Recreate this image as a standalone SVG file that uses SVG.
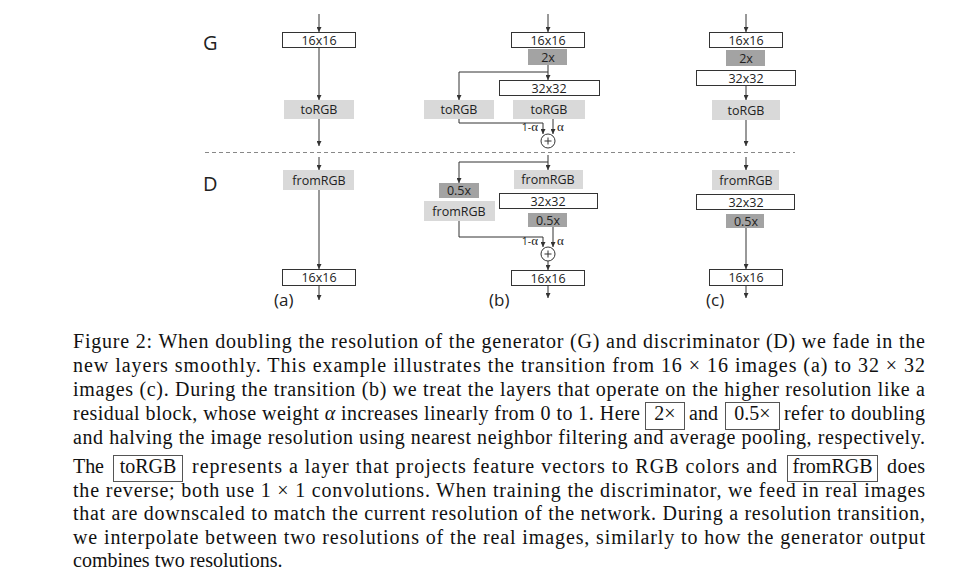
<svg xmlns="http://www.w3.org/2000/svg" width="969" height="577" viewBox="0 0 969 577">
<style>
.bw{fill:#fff;stroke:#333;stroke-width:1}
.bl{fill:#d9d9d9}
.bd{fill:#a3a3a3}
.t{font-family:"Open Sans","Liberation Sans",sans-serif;font-size:12.5px;fill:#222;text-anchor:middle}
.lab{font-family:"Open Sans","Liberation Sans",sans-serif;fill:#222}
.c{fill:none;stroke:#333;stroke-width:1}
.cap{font-family:"Liberation Serif","Times New Roman",serif;font-size:20px;fill:#111}
.cb{fill:none;stroke:#555;stroke-width:1}
.al{font-family:"Open Sans","Liberation Sans",sans-serif;font-size:10.5px;fill:#222}
.as{font-family:"Liberation Serif",serif;font-size:13px;fill:#222}
</style>
<defs>
<marker id="ah" markerWidth="5" markerHeight="5" refX="5" refY="2.5" orient="auto" markerUnits="userSpaceOnUse">
<path d="M0,0 L5,2.5 L0,5 z" fill="#333"/>
</marker>
</defs>
<rect width="969" height="577" fill="#fff"/>

<g id="labels">
<text class="lab" x="203" y="50" font-size="20">G</text>
<text class="lab" x="203" y="191" font-size="20">D</text>
<text class="lab" x="274" y="306" font-size="17">(a)</text>
<text class="lab" x="489" y="306" font-size="17">(b)</text>
<text class="lab" x="706" y="306" font-size="17">(c)</text>
</g>

<path id="divider" d="M205,152.5 H795" stroke="#888" stroke-width="1" stroke-dasharray="4,3" fill="none"/>

<g id="connectors" class="c" marker-end="url(#ah)">
<path d="M319,14 V32"/>
<path d="M319,47 V100"/>
<path d="M319,119 V146"/>
<path d="M319,157 V170"/>
<path d="M319,190 V269"/>
<path d="M319,286 V300"/>
<path d="M548,14 V32"/>
<path d="M548,65 V80"/>
<path d="M548,72 H459 V100"/>
<path d="M459,119 V123 H543 V134"/>
<path d="M553,119 V134"/>
<path d="M548,155 V170"/>
<path d="M548,162 H459 V183"/>
<path d="M459,221 V237 H543 V247"/>
<path d="M553,227 V247"/>
<path d="M548,261 V270"/>
<path d="M548,286 V298"/>
<path d="M746,14 V32"/>
<path d="M746,85 V100"/>
<path d="M746,120 V146"/>
<path d="M746,157 V170"/>
<path d="M746,228 V269"/>
<path d="M746,286 V298"/>
</g>

<g id="a-g-16"><rect class="bw" x="282.5" y="32.5" width="73" height="15"/><text class="t" x="319" y="44.5">16x16</text></g>
<g id="a-g-torgb"><rect class="bl" x="284" y="100" width="70" height="19"/><text class="t" x="319" y="114">toRGB</text></g>
<g id="a-d-fromrgb"><rect class="bl" x="283" y="170" width="71" height="20"/><text class="t" x="319" y="184.5">fromRGB</text></g>
<g id="a-d-16"><rect class="bw" x="282.5" y="269.5" width="73" height="16"/><text class="t" x="319" y="282">16x16</text></g>

<g id="b-g-16"><rect class="bw" x="511.5" y="32.5" width="73" height="15"/><text class="t" x="548" y="44.5">16x16</text></g>
<g id="b-g-2x"><rect class="bd" x="528" y="49" width="39" height="16"/><text class="t" x="548" y="61.5">2x</text></g>
<g id="b-g-32"><rect class="bw" x="499.5" y="80.5" width="100" height="15"/><text class="t" x="549" y="92.5">32x32</text></g>
<g id="b-g-torgb-l"><rect class="bl" x="424" y="100" width="70" height="19"/><text class="t" x="459" y="114">toRGB</text></g>
<g id="b-g-torgb-r"><rect class="bl" x="513" y="100" width="72" height="19"/><text class="t" x="549" y="114">toRGB</text></g>
<g id="b-g-sum">
<circle cx="548" cy="141" r="7" fill="#fff" stroke="#333"/>
<path d="M544.5,141 H551.5 M548,137.5 V144.5" stroke="#333" fill="none"/>
<text class="al" x="538" y="131" text-anchor="end">1-<tspan class="as">α</tspan></text>
<text class="as" x="557" y="131">α</text>
</g>
<g id="b-d-fromrgb-r"><rect class="bl" x="514" y="170" width="69" height="19"/><text class="t" x="548" y="184">fromRGB</text></g>
<g id="b-d-05-l"><rect class="bd" x="439" y="183" width="40" height="15"/><text class="t" x="459" y="195">0.5x</text></g>
<g id="b-d-32"><rect class="bw" x="499.5" y="193.5" width="98" height="15"/><text class="t" x="548" y="205.5">32x32</text></g>
<g id="b-d-fromrgb-l"><rect class="bl" x="424" y="201" width="71" height="20"/><text class="t" x="459" y="215.5">fromRGB</text></g>
<g id="b-d-05-r"><rect class="bd" x="528" y="213" width="39" height="14"/><text class="t" x="548" y="224.5">0.5x</text></g>
<g id="b-d-sum">
<circle cx="548" cy="254" r="7" fill="#fff" stroke="#333"/>
<path d="M544.5,254 H551.5 M548,250.5 V257.5" stroke="#333" fill="none"/>
<text class="al" x="538" y="245" text-anchor="end">1-<tspan class="as">α</tspan></text>
<text class="as" x="557" y="245">α</text>
</g>
<g id="b-d-16"><rect class="bw" x="511.5" y="270.5" width="73" height="15"/><text class="t" x="548" y="282.5">16x16</text></g>

<g id="c-g-16"><rect class="bw" x="709.5" y="32.5" width="73" height="15"/><text class="t" x="746" y="44.5">16x16</text></g>
<g id="c-g-2x"><rect class="bd" x="726" y="50" width="39" height="16"/><text class="t" x="746" y="62.5">2x</text></g>
<g id="c-g-32"><rect class="bw" x="696.5" y="70.5" width="99" height="15"/><text class="t" x="746" y="82.5">32x32</text></g>
<g id="c-g-torgb"><rect class="bl" x="712" y="100" width="68" height="20"/><text class="t" x="746" y="114.5">toRGB</text></g>
<g id="c-d-fromrgb"><rect class="bl" x="712" y="170" width="67" height="20"/><text class="t" x="746" y="184.5">fromRGB</text></g>
<g id="c-d-32"><rect class="bw" x="696.5" y="194.5" width="98" height="15"/><text class="t" x="746" y="206.5">32x32</text></g>
<g id="c-d-05"><rect class="bd" x="726" y="214" width="38" height="14"/><text class="t" x="746" y="225.5">0.5x</text></g>
<g id="c-d-16"><rect class="bw" x="709.5" y="269.5" width="73" height="16"/><text class="t" x="746" y="282">16x16</text></g>

<g id="caption" class="cap">
<text x="73" y="348" textLength="852" lengthAdjust="spacing">Figure 2: When doubling the resolution of the generator (G) and discriminator (D) we fade in the</text>
<text x="73" y="372" textLength="852" lengthAdjust="spacing">new layers smoothly.  This example illustrates the transition from 16 × 16 images (a) to 32 × 32</text>
<text x="73" y="395.5" textLength="852" lengthAdjust="spacing">images (c). During the transition (b) we treat the layers that operate on the higher resolution like a</text>
<text x="73" y="420" textLength="567" lengthAdjust="spacing">residual block, whose weight <tspan font-style="italic">α</tspan> increases linearly from 0 to 1. Here</text>
<rect class="cb" x="645.5" y="402.5" width="39" height="27"/>
<text x="665" y="420" text-anchor="middle">2×</text>
<text x="689" y="420" textLength="29" lengthAdjust="spacing">and</text>
<rect class="cb" x="725.5" y="402.5" width="54" height="27"/>
<text x="752.5" y="420" text-anchor="middle">0.5×</text>
<text x="784" y="420" textLength="141" lengthAdjust="spacing">refer to doubling</text>
<text x="73" y="443.5" textLength="852" lengthAdjust="spacing">and halving the image resolution using nearest neighbor filtering and average pooling, respectively.</text>
<text x="73" y="473" textLength="31" lengthAdjust="spacing">The</text>
<rect class="cb" x="113.5" y="455.5" width="69" height="26"/>
<text x="148" y="473" text-anchor="middle">toRGB</text>
<text x="192" y="473" textLength="585" lengthAdjust="spacing">represents a layer that projects feature vectors to RGB colors and</text>
<rect class="cb" x="787.5" y="455.5" width="90" height="26"/>
<text x="832.5" y="473" text-anchor="middle">fromRGB</text>
<text x="887" y="473" textLength="38" lengthAdjust="spacing">does</text>
<text x="73" y="497" textLength="852" lengthAdjust="spacing">the reverse; both use 1 × 1 convolutions. When training the discriminator, we feed in real images</text>
<text x="73" y="520" textLength="852" lengthAdjust="spacing">that are downscaled to match the current resolution of the network. During a resolution transition,</text>
<text x="73" y="543.5" textLength="852" lengthAdjust="spacing">we interpolate between two resolutions of the real images, similarly to how the generator output</text>
<text x="73" y="567">combines two resolutions.</text>
</g>
</svg>
